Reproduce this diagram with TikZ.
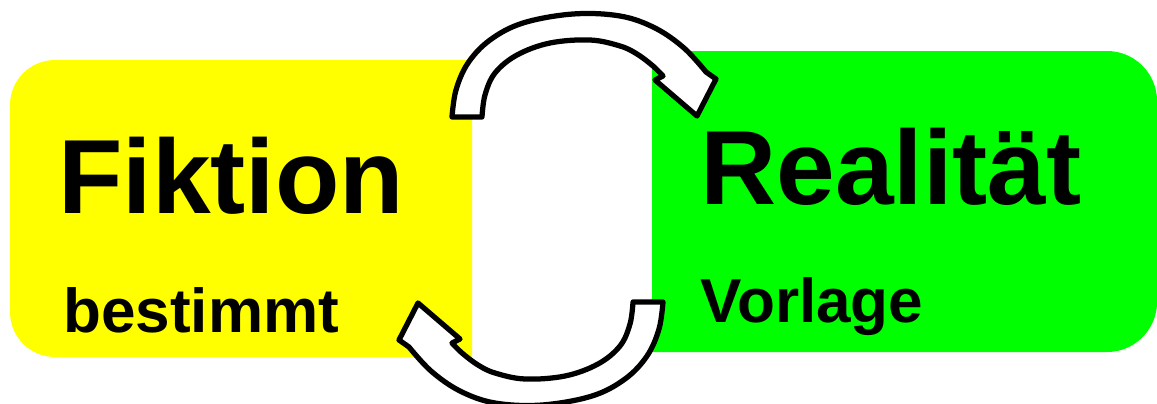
\documentclass[tikz,border=0pt]{standalone}
\usepackage{fontspec}
\setmainfont{Liberation Sans}
\definecolor{fiktion}{HTML}{FFFF00}
\definecolor{realitaet}{HTML}{00FF00}

\begin{document}
\begin{tikzpicture}[x=0.2mm,y=-0.2mm,
  titel/.style={inner sep=0,anchor=base west,font=\fontsize{60}{60}\selectfont\bfseries},
  zusatz/.style={inner sep=0,anchor=base west,font=\fontsize{35.3}{35.3}\selectfont\bfseries},
  pfeil/.style={draw=black,fill=white,line width=1.05mm,line join=round}]
\useasboundingbox (0,0) rectangle (1157,403);
% Flaechen
\begin{scope}
  \clip (0,0) rectangle (472,403);
  \fill[fiktion,rounded corners=9mm] (10,60) rectangle (600,357);
\end{scope}
\begin{scope}
  \clip (652,0) rectangle (1157,403);
  \fill[realitaet,rounded corners=10mm] (560,51) rectangle (1157,352);
\end{scope}
% Texte
\node[titel] (fiktion) at (58,213) {Fiktion};
\node[zusatz] (bestimmt) at (63,332) {bestimmt};
\node[titel] (realitaet) at (700,204) {Realität};
\node[zusatz] (vorlage) at (700,322) {Vorlage};
% gebogene Pfeile, der untere ist der obere um 180 Grad gedreht
\foreach \w in {0,180}
  \draw[pfeil,rotate around={\w:(557.5,209.5)}]
    plot[smooth,tension=.6] coordinates {(452,117) (456,90) (468,63) (490,40) (523,23) (573,14) (620,16) (655,28) (684,48) (706,72)}
    -- (716,79) -- (697,116) -- (655,80) -- (663,76)
    -- plot[smooth,tension=.6] coordinates {(663,76) (653,66) (637,54) (620,46) (590,40) (550,43) (517,55) (495,73) (485,95) (482,117)}
    -- cycle;
\end{tikzpicture}
\end{document}
